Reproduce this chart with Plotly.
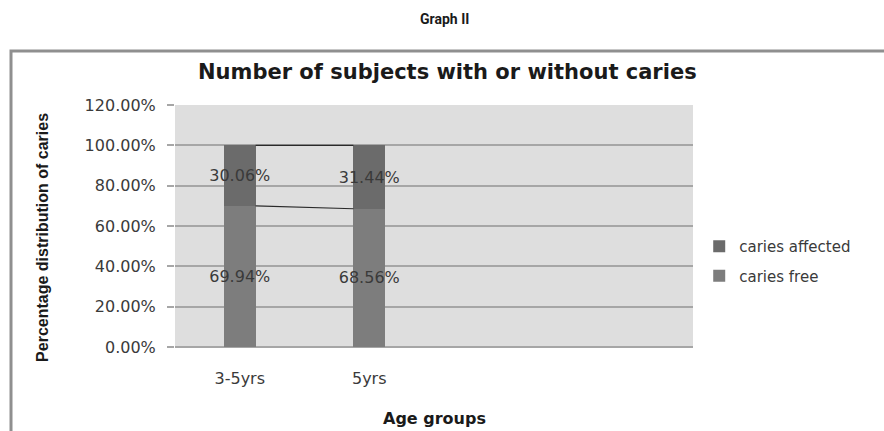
import plotly.graph_objects as go

# Age groups and percentage distribution of caries status
age_groups = ["3-5yrs", "5yrs"]
caries_free = [0.6994, 0.6856]
caries_affected = [0.3006, 0.3144]
y_ticks = [0.0, 0.2, 0.4, 0.6, 0.8, 1.0, 1.2]

x_pos = list(range(len(age_groups)))
bar_w = 0.245

label_font = dict(family="DejaVu Sans", size=16, color="#3a3a3a")

fig = go.Figure()
fig.add_trace(go.Bar(
    x=x_pos, y=caries_free, name="caries free", width=bar_w,
    marker=dict(color="#7d7d7d", line=dict(width=0)),
    text=[f"{v*100:.2f}%" for v in caries_free], textposition="inside",
    insidetextanchor="middle", textangle=0, constraintext="none",
    textfont=label_font, legendgroup="free", legendrank=2, cliponaxis=False,
))
fig.add_trace(go.Bar(
    x=x_pos, y=caries_affected, name="caries affected", width=bar_w,
    marker=dict(color="#6b6b6b", line=dict(width=0)),
    text=[f"{v*100:.2f}%" for v in caries_affected], textposition="inside",
    insidetextanchor="middle", textangle=0, constraintext="none",
    textfont=label_font, legendgroup="affected", legendrank=1, cliponaxis=False,
))

# Series lines joining the top of each stacked segment between bars
tops_free = caries_free
tops_all = [a + b for a, b in zip(caries_free, caries_affected)]
for tops in (tops_free, tops_all):
    for i in range(len(x_pos) - 1):
        fig.add_trace(go.Scatter(
            x=[x_pos[i] + bar_w / 2, x_pos[i + 1] - bar_w / 2],
            y=[tops[i], tops[i + 1]], mode="lines",
            line=dict(color="#2a2a2a", width=1.2), showlegend=False,
            hoverinfo="skip",
        ))

fig.update_layout(
    width=884, height=431,
    margin=dict(l=175, r=191, t=105, b=84),
    barmode="stack",
    paper_bgcolor="white",
    plot_bgcolor="#dedede",
    showlegend=True,
    legend=dict(
        x=1.012, y=0.355, xanchor="left", yanchor="middle",
        traceorder="grouped", tracegroupgap=7,
        font=dict(family="DejaVu Sans", size=15, color="#3a3a3a"),
        itemwidth=30, bgcolor="rgba(0,0,0,0)",
    ),
    xaxis=dict(
        range=[-0.5, 3.5], tickmode="array", tickvals=x_pos, ticktext=age_groups,
        showgrid=False, zeroline=False, showline=False, ticks="",
        tickfont=dict(family="DejaVu Sans", size=16, color="#3a3a3a"),
        ticklabelstandoff=20,
    ),
    yaxis=dict(
        range=[0, 1.2], tickmode="array", tickvals=y_ticks, tickformat=".2%",
        showgrid=True, gridcolor="#a6a6a6", gridwidth=2,
        zeroline=True, zerolinecolor="#a6a6a6", zerolinewidth=2,
        ticks="outside", ticklen=7, tickcolor="#a6a6a6", tickwidth=2,
        tickfont=dict(family="DejaVu Sans", size=16, color="#3a3a3a"),
        ticklabelstandoff=8,
    ),
    annotations=[
        dict(text="<b>Graph II</b>", xref="paper", yref="paper", x=0.52, y=1.355,
             xanchor="center", yanchor="middle", showarrow=False,
             font=dict(family="Roboto", size=14, color="#1a1a1a")),
        dict(text="<b>Number of subjects with or without caries</b>", xref="paper",
             yref="paper", x=0.527, y=1.136, xanchor="center", yanchor="middle",
             showarrow=False,
             font=dict(family="DejaVu Sans", size=21, color="#1a1a1a")),
        dict(text="<b>Percentage distribution of caries</b>", xref="paper",
             yref="paper", x=-0.257, y=0.4545, xanchor="center", yanchor="middle",
             textangle=-90, showarrow=False,
             font=dict(family="Liberation Sans", size=16, color="#1a1a1a")),
        dict(text="<b>Age groups</b>", xref="paper", yref="paper", x=0.5, y=-0.295,
             xanchor="center", yanchor="middle", showarrow=False,
             font=dict(family="DejaVu Sans", size=16, color="#1a1a1a")),
    ],
    shapes=[
        dict(type="rect", xref="paper", yref="paper", x0=-0.3166, y0=-0.6,
             x1=1.6, y1=1.223, line=dict(color="#8f8f8f", width=3),
             fillcolor="rgba(0,0,0,0)", layer="below"),
    ],
)

fig.write_html("out.html")
